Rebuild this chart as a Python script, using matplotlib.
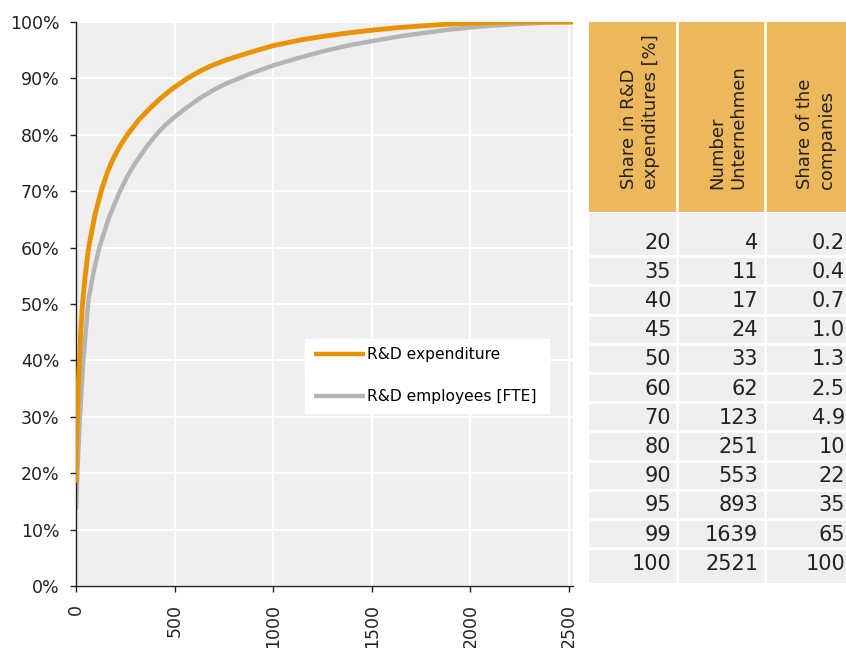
import matplotlib
matplotlib.use("Agg")
import matplotlib.pyplot as plt
from matplotlib.patches import Rectangle

# ---- data ----
# Curve: R&D expenditure (cumulative share [%] vs number of companies)
exp_x = [0, 2, 7, 11, 17, 24, 33, 46, 64, 96, 130, 160, 189, 225, 260, 320, 375, 430, 490, 560, 629, 690, 756, 882,
         1000, 1136, 1263, 1389, 1516, 1633, 1710, 1880, 2049, 2218, 2521]
exp_y = [18.3, 25, 30, 35, 40, 45, 50, 54.8, 60, 65.8, 70.3, 73.4, 75.8, 78.1, 80, 82.7, 84.7, 86.5, 88.2, 89.9, 91.3, 92.3, 93.2, 94.6,
         95.8, 96.8, 97.5, 98.1, 98.6, 99.0, 99.2, 99.6, 99.85, 100, 100]
# Curve: R&D employees [FTE]
emp_x = [0, 7, 12, 20, 37, 63, 88, 118, 169, 223, 260, 299, 350, 406, 455, 502, 560, 629, 690, 756, 882,
         1000, 1136, 1263, 1389, 1516, 1633, 1710, 1880, 2049, 2218, 2388, 2521]
emp_y = [13.5, 20, 24.1, 30, 40, 50.7, 55.5, 60, 65.5, 70, 72.6, 74.9, 77.5, 80, 81.8, 83.2, 84.8, 86.5, 87.8, 89.0, 90.8,
         92.3, 93.7, 94.9, 95.9, 96.7, 97.4, 97.8, 98.6, 99.2, 99.6, 99.9, 100]

series_labels = ["R&D expenditure", "R&D employees [FTE]"]

# Table
table_headers = ["Share in R&D\nexpenditures [%]", "Number\nUnternehmen", "Share of the\ncompanies"]
share_rd = ["20", "35", "40", "45", "50", "60", "70", "80", "90", "95", "99", "100"]
num_companies = ["4", "11", "17", "24", "33", "62", "123", "251", "553", "893", "1639", "2521"]
share_companies = ["0.2", "0.4", "0.7", "1.0", "1.3", "2.5", "4.9", "10", "22", "35", "65", "100"]

x_ticks = [0, 500, 1000, 1500, 2000, 2500]
y_ticks = [0, 10, 20, 30, 40, 50, 60, 70, 80, 90, 100]

ORANGE = "#E89400"
GRAY = "#B4B4B4"
HEADER = "#EDB85B"
BG = "#EFEFEF"
TXT = "#222222"

plt.rcParams['font.family'] = ['DejaVu Sans']

W, H = 846, 648
fig = plt.figure(figsize=(W / 100, H / 100), dpi=100)

# ---- main chart ----
ax = fig.add_axes([76 / W, (H - 586) / H, (573 - 76) / W, (586 - 22) / H])
ax.set_facecolor(BG)
ax.plot(exp_x, exp_y, color=ORANGE, lw=3.5, label=series_labels[0], zorder=3,
        solid_capstyle='butt', solid_joinstyle='round')
ax.plot(emp_x, emp_y, color=GRAY, lw=3.2, label=series_labels[1], zorder=2,
        solid_capstyle='butt', solid_joinstyle='round')
ax.set_xlim(0, 2521)
ax.set_ylim(0, 100)
ax.set_xticks(x_ticks)
ax.set_xticklabels([str(v) for v in x_ticks], rotation=90, fontsize=12.5, color=TXT)
ax.set_yticks(y_ticks)
ax.set_yticklabels([f"{v}%" for v in y_ticks], fontsize=12.5, color=TXT)
ax.grid(True, color="white", lw=1.5)
ax.set_axisbelow(True)
for s in ["top", "right"]:
    ax.spines[s].set_visible(False)
for s in ["left", "bottom"]:
    ax.spines[s].set_color(TXT)
    ax.spines[s].set_linewidth(1.0)
ax.tick_params(axis='both', direction='out', length=4, width=1, color=TXT)
ax.tick_params(axis='y', pad=8)
ax.tick_params(axis='x', pad=9)

leg = ax.legend(loc='lower left', bbox_to_anchor=(0.461, 0.307, 0.491, 0.143), mode='expand',
                frameon=True, fancybox=False, facecolor='white', edgecolor='white',
                framealpha=1, fontsize=11.2, handlelength=3.3, handletextpad=0.15,
                labelspacing=1.75, borderpad=0.55, borderaxespad=0)
for h in leg.get_lines():
    h.set_linewidth(3.2)

# ---- table ----
tx0, tx1 = 589, 846
ty0, ty1 = 22, 585
tab = fig.add_axes([tx0 / W, (H - ty1) / H, (tx1 - tx0) / W, (ty1 - ty0) / H])
tab.set_xlim(tx0, tx1)
tab.set_ylim(ty1, ty0)
tab.axis('off')

col_edges = [589, 677, 765, 853]
header_bottom = 212
tab.add_patch(Rectangle((tx0, ty0), tx1 - tx0, header_bottom - ty0, color=HEADER, lw=0, clip_on=False))
tab.add_patch(Rectangle((tx0, header_bottom + 1.5), tx1 - tx0, 583 - header_bottom - 1.5,
                        color=BG, lw=0, clip_on=False))
for xe in col_edges[1:3]:
    tab.plot([xe, xe], [ty0, 583], color='white', lw=2, clip_on=False)

row_h = 29.2
first_row_bottom = 256.3
n = len(share_rd)
for k in range(n - 1):
    yb = first_row_bottom + k * row_h
    tab.plot([tx0, tx1], [yb, yb], color='white', lw=2, clip_on=False)

cols = [share_rd, num_companies, share_companies]
right_x = [671, 758, 845]
for k in range(n):
    yc = first_row_bottom + k * row_h - row_h / 2 + 1
    for c in range(3):
        tab.text(right_x[c], yc, cols[c][k], ha='right', va='center', fontsize=15,
                 color=TXT, clip_on=False)

for c in range(3):
    xc = (col_edges[c] + col_edges[c + 1]) / 2 + 7
    tab.text(xc, 189, table_headers[c], rotation=90, ha='center', va='bottom',
             multialignment='left', fontsize=13, color=TXT, linespacing=1.25)

fig.savefig("out.png", dpi=100)
